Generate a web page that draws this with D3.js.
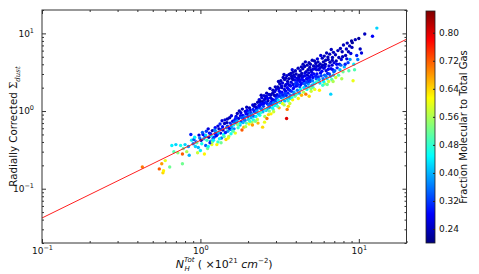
<!DOCTYPE html>
<html>
<head>
<meta charset="utf-8">
<script src="https://cdn.jsdelivr.net/npm/d3@7"></script>
<style>
  body { margin: 0; background: #fff; }
  text { font-family: "DejaVu Sans", sans-serif; fill: #111; }
</style>
</head>
<body>
<svg id="chart" width="479" height="274"></svg>
<script>
// [N_H total (1e21 cm^-2), radially corrected Sigma_dust, molecular fraction]
const points = [
  [0.43,0.19,0.70],[0.55,0.18,0.72],[0.57,0.21,0.68],[0.58,0.16,0.64],[0.585,0.17,0.62],[0.60,0.23,0.60],
  [0.64,0.19,0.52],[0.66,0.36,0.44],[0.68,0.30,0.50],[0.70,0.37,0.42],[0.72,0.29,0.54],[0.75,0.36,0.46],
  [0.77,0.21,0.52],[0.77,0.28,0.72],[0.78,0.33,0.50],[0.80,0.37,0.42],[0.82,0.30,0.56],[0.85,0.27,0.40],
  [0.87,0.50,0.30],[0.88,0.42,0.44],[0.84,0.35,0.38],
  [1.07,0.47,0.30],[0.93,0.35,0.42],[1.16,0.41,0.38],[0.98,0.49,0.26],[1.11,0.33,0.52],[0.91,0.43,0.34],
  [1.19,0.56,0.24],[1.02,0.38,0.46],[0.96,0.29,0.58],[1.14,0.52,0.28],[1.05,0.44,0.40],[0.94,0.40,0.30],
  [1.18,0.37,0.60],[1.09,0.55,0.32],[1.00,0.31,0.44],[0.99,0.45,0.36],[1.13,0.46,0.24],[1.04,0.50,0.28],
  [1.17,0.48,0.44],[0.95,0.39,0.50],[1.08,0.36,0.34],[1.12,0.59,0.26],[1.01,0.42,0.24],[0.97,0.34,0.40],
  [1.15,0.39,0.30],[1.06,0.28,0.62],[1.20,0.44,0.36],[0.92,0.46,0.44],[1.10,0.42,0.48],[1.03,0.53,0.34],
  [1.16,0.51,0.30],[0.90,0.38,0.36],[1.08,0.49,0.42],[1.12,0.35,0.46],[1.19,0.40,0.54],
  [1.34,0.52,0.26],[1.22,0.46,0.32],[1.47,0.71,0.24],[1.29,0.40,0.48],[1.55,0.58,0.34],[1.38,0.63,0.28],
  [1.25,0.55,0.40],[1.51,0.47,0.56],[1.43,0.77,0.26],[1.31,0.59,0.24],[1.58,0.66,0.30],[1.27,0.37,0.62],
  [1.40,0.50,0.44],[1.53,0.82,0.24],[1.36,0.45,0.36],[1.24,0.61,0.28],[1.49,0.55,0.38],[1.60,0.74,0.26],
  [1.33,0.68,0.30],[1.45,0.43,0.64],[1.28,0.50,0.34],[1.56,0.51,0.46],[1.39,0.57,0.24],[1.21,0.42,0.44],
  [1.48,0.64,0.32],[1.35,0.39,0.52],[1.57,0.87,0.26],[1.30,0.53,0.40],[1.42,0.69,0.24],[1.26,0.48,0.28],
  [1.52,0.60,0.28],[1.37,0.75,0.26],[1.59,0.57,0.42],[1.44,0.53,0.30],[1.23,0.57,0.36],[1.50,0.45,0.60],
  [1.32,0.44,0.44],[1.46,0.61,0.36],[1.54,0.70,0.30],[1.41,0.47,0.50],[1.29,0.64,0.26],[1.35,0.58,0.32],
  [1.57,0.63,0.38],[1.24,0.51,0.30],[1.48,0.79,0.24],
  [1.74,0.80,0.26],[1.63,0.59,0.36],[1.98,0.93,0.24],[1.69,0.70,0.30],[2.11,0.72,0.56],[1.85,0.88,0.28],
  [1.66,0.52,0.60],[2.04,1.10,0.24],[1.78,0.66,0.40],[1.92,0.99,0.26],[2.17,0.86,0.34],[1.71,0.93,0.24],
  [1.88,0.62,0.66],[2.01,0.78,0.42],[1.65,0.77,0.28],[1.81,0.73,0.32],[2.14,1.20,0.26],[1.95,0.70,0.50],
  [1.76,1.00,0.24],[2.08,0.95,0.30],[1.62,0.66,0.44],[1.90,0.84,0.36],[2.19,0.99,0.28],[1.83,0.57,0.72],
  [1.68,0.85,0.26],[2.03,0.68,0.62],[1.96,1.12,0.24],[1.73,0.61,0.48],[2.12,0.91,0.38],[1.87,0.79,0.30],
  [1.64,0.72,0.34],[2.06,1.03,0.26],[1.79,0.87,0.28],[1.93,0.63,0.56],[2.16,0.77,0.46],[1.70,0.75,0.38],
  [1.99,0.85,0.32],[1.84,1.06,0.24],[2.09,0.82,0.40],[1.61,0.55,0.50],[1.77,0.69,0.44],[1.94,0.92,0.28],
  [2.18,1.15,0.24],[1.86,0.71,0.40],[2.02,0.97,0.34],[1.67,0.81,0.30],[1.91,0.76,0.36],[2.13,0.66,0.68],
  [1.80,0.95,0.26],[2.07,0.88,0.36],[1.72,0.67,0.54],[1.97,1.02,0.28],[2.15,1.05,0.30],[1.82,0.82,0.34],
  [2.05,0.74,0.48],
  [2.46,1.32,0.24],[2.23,0.96,0.34],[2.71,1.63,0.26],[2.34,1.18,0.28],[2.88,1.05,0.50],[2.57,1.45,0.24],
  [2.29,0.78,0.58],[2.95,1.78,0.26],[2.41,1.07,0.36],[2.64,1.24,0.30],[2.21,1.22,0.24],[2.79,0.92,0.62],
  [2.52,1.58,0.26],[2.37,0.88,0.46],[2.92,1.38,0.28],[2.60,1.02,0.42],[2.26,1.06,0.30],[2.75,1.95,0.24],
  [2.44,1.48,0.26],[2.83,1.20,0.34],[2.31,0.70,0.66],[2.67,1.36,0.24],[2.55,0.85,0.56],[2.98,1.55,0.28],
  [2.39,1.28,0.30],[2.86,1.70,0.24],[2.48,0.98,0.40],[2.73,1.12,0.36],[2.24,0.85,0.44],[2.62,1.70,0.24],
  [2.35,1.40,0.26],[2.90,0.98,0.58],[2.50,1.15,0.32],[2.77,1.48,0.26],[2.28,1.00,0.38],[2.69,0.90,0.64],
  [2.43,1.22,0.28],[2.97,2.05,0.24],[2.58,1.30,0.30],[2.81,1.32,0.28],[2.33,1.10,0.32],[2.65,1.08,0.40],
  [2.22,0.74,0.52],[2.87,1.85,0.24],[2.53,1.40,0.26],[2.40,0.95,0.48],[2.76,1.25,0.32],[2.94,1.18,0.44],
  [2.30,1.30,0.24],[2.61,1.55,0.26],[2.47,0.62,0.64],[2.84,1.42,0.26],[2.36,1.16,0.28],[2.70,1.18,0.34],
  [2.56,1.05,0.46],[2.25,1.12,0.26],[2.93,1.60,0.24],[2.45,1.05,0.36],[2.79,1.62,0.24],[2.63,0.80,0.70],
  [2.38,1.34,0.24],[2.89,1.28,0.36],[2.51,1.25,0.28],[2.72,1.00,0.52],[2.32,0.92,0.42],[2.66,1.45,0.28],
  [2.85,1.10,0.44],[2.42,1.60,0.24],[2.99,1.35,0.32],[2.54,0.72,0.60],
  [3.42,2.10,0.24],[3.05,1.62,0.26],[3.78,2.65,0.24],[3.21,1.30,0.34],[3.90,1.75,0.40],[3.55,2.40,0.24],
  [3.12,1.95,0.26],[3.68,1.45,0.44],[3.33,2.70,0.24],[3.85,2.20,0.26],[3.02,1.25,0.40],[3.48,1.58,0.30],
  [3.72,3.05,0.24],[3.17,2.25,0.24],[3.95,2.50,0.28],[3.38,1.20,0.56],[3.60,1.90,0.26],[3.27,1.75,0.28],
  [3.82,1.40,0.62],[3.08,2.05,0.24],[3.51,2.85,0.26],[3.65,2.15,0.24],[3.24,1.48,0.36],[3.98,3.30,0.24],
  [3.45,1.80,0.28],[3.14,1.10,0.66],[3.75,1.80,0.32],[3.30,2.30,0.26],[3.58,1.35,0.48],[3.88,2.90,0.24],
  [3.19,1.68,0.30],[3.40,2.55,0.24],[3.70,1.60,0.36],[3.03,1.45,0.32],[3.53,1.05,0.70],[3.92,2.05,0.30],
  [3.36,1.55,0.34],[3.62,2.60,0.24],[3.10,1.38,0.42],[3.80,3.40,0.26],[3.47,2.20,0.26],[3.26,2.00,0.24],
  [3.67,1.25,0.58],[3.15,1.80,0.28],[3.86,1.95,0.28],[3.57,1.70,0.30],[3.34,1.40,0.44],[3.96,1.55,0.52],
  [3.22,2.45,0.24],[3.50,0.80,0.80],[3.74,2.35,0.26],[3.07,1.15,0.50],[3.43,1.68,0.32],[3.63,2.95,0.24],
  [3.29,1.25,0.60],[3.83,2.55,0.24],[3.11,2.40,0.24],[3.54,2.00,0.28],[3.77,1.50,0.46],[3.39,1.90,0.26],
  [3.93,2.75,0.26],[3.20,1.58,0.34],[3.61,1.50,0.38],[3.46,2.65,0.24],[3.01,1.90,0.26],[3.71,2.10,0.28],
  [3.31,1.62,0.30],[3.89,1.65,0.36],[3.56,2.25,0.26],[3.16,1.30,0.46],[3.84,3.15,0.24],[3.41,1.35,0.40],
  [3.66,1.85,0.30],[3.25,2.10,0.26],[3.97,2.25,0.32],[3.52,1.45,0.42],[3.13,1.55,0.30],[3.76,2.80,0.24],
  [3.37,2.95,0.24],[3.59,1.15,0.64],
  [4.32,2.85,0.24],[4.05,2.10,0.28],[4.78,3.40,0.24],[4.21,1.70,0.40],[5.12,2.70,0.28],[4.55,3.75,0.24],
  [4.12,2.50,0.26],[4.96,2.05,0.44],[4.41,2.30,0.30],[5.35,4.10,0.24],[4.68,2.60,0.26],[4.02,3.00,0.24],
  [5.22,2.25,0.40],[4.48,1.75,0.56],[4.85,4.20,0.24],[4.27,3.30,0.24],[5.05,3.15,0.26],[4.62,2.10,0.34],
  [4.15,1.45,0.62],[5.44,3.00,0.28],[4.73,2.90,0.24],[4.38,2.70,0.26],[5.00,1.80,0.58],[4.09,1.85,0.36],
  [4.90,3.65,0.24],[4.52,2.45,0.28],[5.28,3.50,0.24],[4.24,2.05,0.32],[4.80,2.25,0.38],[4.45,4.00,0.24],
  [5.15,2.00,0.50],[4.65,3.20,0.24],[4.18,2.75,0.24],[5.38,2.60,0.34],[4.88,2.75,0.26],[4.35,1.60,0.66],
  [5.08,4.50,0.24],[4.58,2.85,0.28],[4.06,2.35,0.30],[5.48,4.70,0.26],[4.70,1.90,0.46],[4.30,2.20,0.28],
  [5.18,3.80,0.24],[4.93,2.40,0.32],[4.43,3.50,0.24],[5.02,2.90,0.28],[4.14,3.55,0.24],[4.76,2.40,0.30],
  [5.31,2.30,0.44],[4.50,2.00,0.42],[4.98,3.35,0.24],[4.22,2.55,0.26],[5.42,3.40,0.26],[4.63,1.65,0.70],
  [4.36,3.05,0.24],[5.10,2.45,0.36],[4.83,3.10,0.26],[4.03,1.65,0.48],[5.25,4.40,0.24],[4.57,3.10,0.26],
  [4.28,1.90,0.44],[4.95,4.00,0.24],[4.67,2.35,0.32],[5.20,3.00,0.28],[4.11,2.20,0.30],[4.86,1.55,0.64],
  [4.40,2.55,0.28],[5.34,2.80,0.30],[4.72,3.90,0.24],[4.19,2.90,0.24],[5.06,2.15,0.40],[4.47,2.80,0.26],
  [4.91,2.55,0.30],[5.46,2.40,0.48],[4.60,4.30,0.24],[4.25,2.40,0.28],[5.13,3.45,0.26],[4.82,2.05,0.40],
  [4.34,3.70,0.24],[5.40,3.75,0.26],[4.54,2.25,0.34],[4.99,1.95,0.52],[4.08,2.65,0.26],[5.27,1.90,0.60],
  [4.75,2.65,0.28],
  [5.82,3.70,0.24],[5.55,2.75,0.30],[6.40,4.60,0.24],[5.68,2.30,0.42],[6.85,3.40,0.28],[6.05,5.10,0.24],
  [5.60,3.40,0.26],[6.62,2.80,0.38],[5.95,2.60,0.36],[6.92,5.70,0.24],[6.22,3.30,0.26],[5.52,4.30,0.24],
  [6.75,2.55,0.50],[6.10,2.25,0.56],[5.88,4.80,0.24],[6.48,3.80,0.26],[5.73,3.10,0.28],[6.98,4.20,0.26],
  [6.30,2.60,0.44],[5.64,1.85,0.62],[6.55,5.40,0.24],[6.15,4.00,0.24],[5.78,2.85,0.32],[6.82,4.90,0.24],
  [6.36,3.05,0.30],[5.58,3.85,0.24],[6.68,3.50,0.28],[6.02,3.55,0.26],[6.90,2.90,0.40],[5.92,2.15,0.48],
  [6.45,2.40,0.58],[6.18,4.50,0.24],[5.70,4.05,0.24],[6.78,3.90,0.26],[6.26,5.60,0.24],[5.85,3.25,0.28],
  [6.58,4.25,0.24],[6.08,2.90,0.34],[6.95,3.20,0.34],[5.62,2.55,0.38],[6.42,3.45,0.28],[6.70,6.20,0.24],
  [5.98,4.30,0.24],[6.32,2.20,0.52],[5.75,5.20,0.26],[6.88,2.40,0.56],[6.12,3.75,0.26],[6.52,3.00,0.32],
  [5.90,3.90,0.24],[6.65,1.65,0.42],[6.20,2.80,0.36],[6.80,4.50,0.24],[5.66,3.55,0.26],[6.38,4.95,0.24],
  [6.00,2.40,0.44],
  [7.20,4.40,0.24],[7.05,3.30,0.34],[7.85,5.80,0.24],[7.45,2.90,0.50],[8.40,4.70,0.26],[7.65,6.40,0.24],
  [7.12,5.30,0.24],[8.10,3.70,0.40],[7.55,4.00,0.26],[8.75,6.90,0.24],[7.30,3.60,0.30],[8.25,5.20,0.24],
  [7.95,3.20,0.52],[9.10,7.60,0.22],[7.38,6.00,0.24],[8.55,4.20,0.32],[7.75,4.60,0.26],[9.30,4.00,0.44],
  [8.00,7.10,0.24],[7.60,3.40,0.40],[8.90,5.50,0.26],[7.15,2.70,0.58],[8.35,6.30,0.24],[9.50,8.30,0.24],
  [7.90,5.00,0.24],[8.65,3.30,0.50],[7.48,4.90,0.24],[9.20,2.45,0.60],[8.20,4.00,0.30],[9.00,8.00,0.22],
  [7.70,3.90,0.34],[8.80,4.60,0.38],[7.25,4.00,0.28],[9.70,5.20,0.30],[8.45,7.50,0.24],[9.40,3.40,0.50],
  [7.80,2.60,0.56],[8.60,5.80,0.24],[9.85,4.60,0.36],[9.05,6.60,0.24],
  [10.4,5.6,0.26],[10.9,9.8,0.24],[12.2,9.2,0.28],[13.0,11.7,0.42],[10.0,8.6,0.22],[10.2,6.3,0.24]
];

// fitted relation, end points
const fitX = [0.1, 20];
const fitY = [0.042, 8.4];

const xMajor = [0.1, 1, 10];
const yMajor = [0.1, 1, 10];
const cbTicks = [0.24, 0.32, 0.40, 0.48, 0.56, 0.64, 0.72, 0.80];
const yLabel = "Radially Corrected ";
const cbLabel = "Fraction Molecular to Total Gas";

const svg = d3.select("#chart");
const m = { left: 42, right: 406.5, top: 10, bottom: 243 };

const x = d3.scaleLog().domain([0.1, 20]).range([m.left, m.right]);
const y = d3.scaleLog().domain([0.02, 20]).range([m.bottom, m.top]);

// jet colour map
const jetStops = ["#00007f", "#0000ff", "#00ffff", "#ffff00", "#ff0000", "#7f0000"];
const jetPos = [0, 0.125, 0.375, 0.625, 0.875, 1];
const cDomain = [0.2, 0.862];
const jet = d3.scaleLinear().domain(jetPos).range(jetStops).interpolate(d3.interpolateRgb);
const color = v => jet((v - cDomain[0]) / (cDomain[1] - cDomain[0]));

function minorTicks(lo, hi) {
  const out = [];
  for (let e = Math.floor(Math.log10(lo)); e <= Math.ceil(Math.log10(hi)); e++) {
    for (let k = 2; k <= 9; k++) {
      const v = k * Math.pow(10, e);
      if (v >= lo && v <= hi) out.push(v);
    }
  }
  return out;
}

function powLabel(t, v) {
  const e = Math.round(Math.log10(v));
  t.text(null);
  t.append("tspan").text("10");
  t.append("tspan").attr("dy", -4).attr("font-size", 6.5).text(e < 0 ? "\u2212" + (-e) : e);
}

// scatter
svg.append("g")
  .selectAll("circle")
  .data(points)
  .join("circle")
  .attr("cx", d => x(d[0]))
  .attr("cy", d => y(d[1]))
  .attr("r", 1.7)
  .attr("fill", d => color(d[2]));

// fit line
svg.append("line")
  .attr("x1", x(fitX[0])).attr("y1", y(fitY[0]))
  .attr("x2", x(fitX[1])).attr("y2", y(fitY[1]))
  .attr("stroke", "#ff2020")
  .attr("stroke-width", 1);

// ticks, pointing inwards on all four sides
const tickCol = "#333";
function axisG(axis, tx, ty) {
  const g = svg.append("g").attr("transform", `translate(${tx},${ty})`).call(axis);
  g.select(".domain").remove();
  g.selectAll("line").attr("stroke", tickCol);
  return g;
}
const xMin = minorTicks(0.1, 20), yMin = minorTicks(0.02, 20);

axisG(d3.axisBottom(x).tickValues(xMin).tickSize(-2).tickFormat(""), 0, m.bottom);
axisG(d3.axisTop(x).tickValues(xMin).tickSize(-2).tickFormat(""), 0, m.top);
axisG(d3.axisLeft(y).tickValues(yMin).tickSize(-2).tickFormat(""), m.left, 0);
axisG(d3.axisRight(y).tickValues(yMin).tickSize(-2).tickFormat(""), m.right, 0);
axisG(d3.axisTop(x).tickValues(xMajor).tickSize(-4).tickFormat(""), 0, m.top);
axisG(d3.axisRight(y).tickValues(yMajor).tickSize(-4).tickFormat(""), m.right, 0);

const xa = axisG(d3.axisBottom(x).tickValues(xMajor).tickSize(-4).tickPadding(5), 0, m.bottom);
xa.selectAll("text").attr("font-size", 9).attr("font-family", "DejaVu Sans").attr("fill", "#111")
  .each(function(d) { powLabel(d3.select(this), d); });

const ya = axisG(d3.axisLeft(y).tickValues(yMajor).tickSize(-4).tickPadding(8), m.left, 0);
ya.selectAll("text").attr("font-size", 9).attr("font-family", "DejaVu Sans").attr("fill", "#111")
  .each(function(d) { powLabel(d3.select(this), d); });

// frame
svg.append("rect")
  .attr("x", m.left).attr("y", m.top)
  .attr("width", m.right - m.left).attr("height", m.bottom - m.top)
  .attr("fill", "none").attr("stroke", "#333").attr("stroke-width", 1);

// y label
const yl = svg.append("text")
  .attr("transform", `translate(17,${(m.top + m.bottom) / 2}) rotate(-90)`)
  .attr("text-anchor", "middle")
  .attr("font-size", 10.3);
yl.append("tspan").text(yLabel);
yl.append("tspan").attr("font-family", "DejaVu Serif").text("\u03a3");
yl.append("tspan").attr("font-family", "DejaVu Serif").attr("font-style", "italic")
  .attr("font-size", 7).attr("dy", 2.5).text("dust");

// x label (math style)
const xl = svg.append("text")
  .attr("x", (m.left + m.right) / 2).attr("y", 268)
  .attr("text-anchor", "middle")
  .attr("font-family", "Liberation Serif")
  .attr("font-size", 11);
xl.append("tspan").attr("font-style", "italic").text("N");
xl.append("tspan").attr("font-style", "italic").attr("font-size", 7).attr("dy", -6).text("Tot");
xl.append("tspan").attr("font-style", "italic").attr("font-size", 7).attr("dy", 9).attr("dx", -10).text("H");
xl.append("tspan").attr("dy", -3).attr("dx", 8).text("( \u00d710");
xl.append("tspan").attr("font-size", 7).attr("dy", -5).text("21");
xl.append("tspan").attr("font-style", "italic").attr("dy", 5).text("  cm");
xl.append("tspan").attr("font-size", 7).attr("dy", -5).text("\u22122");
xl.append("tspan").attr("dy", 5).text(")");

// colour bar
const cb = { x: 426, w: 9, top: 11, bottom: 243 };
const cScale = d3.scaleLinear().domain(cDomain).range([cb.bottom, cb.top]);
const grad = svg.append("defs").append("linearGradient")
  .attr("id", "jetGrad").attr("x1", 0).attr("y1", 1).attr("x2", 0).attr("y2", 0);
grad.selectAll("stop").data(jetPos).join("stop")
  .attr("offset", d => d)
  .attr("stop-color", (d, i) => jetStops[i]);
svg.append("rect")
  .attr("x", cb.x).attr("y", cb.top)
  .attr("width", cb.w).attr("height", cb.bottom - cb.top)
  .attr("fill", "url(#jetGrad)")
  .attr("stroke", "#222").attr("stroke-width", 0.8);

const cbAxis = svg.append("g")
  .attr("transform", `translate(${cb.x + cb.w},0)`)
  .call(d3.axisRight(cScale).tickValues(cbTicks).tickSize(-2).tickPadding(4).tickFormat(d3.format(".2f")));
cbAxis.select(".domain").remove();
cbAxis.selectAll("line").attr("stroke", "#222");
cbAxis.selectAll("text").attr("font-size", 9).attr("font-family", "DejaVu Sans").attr("fill", "#111");

svg.append("text")
  .attr("transform", `translate(467,${(cb.top + cb.bottom) / 2}) rotate(-90)`)
  .attr("text-anchor", "middle")
  .attr("font-size", 10)
  .text(cbLabel);
</script>
</body>
</html>
